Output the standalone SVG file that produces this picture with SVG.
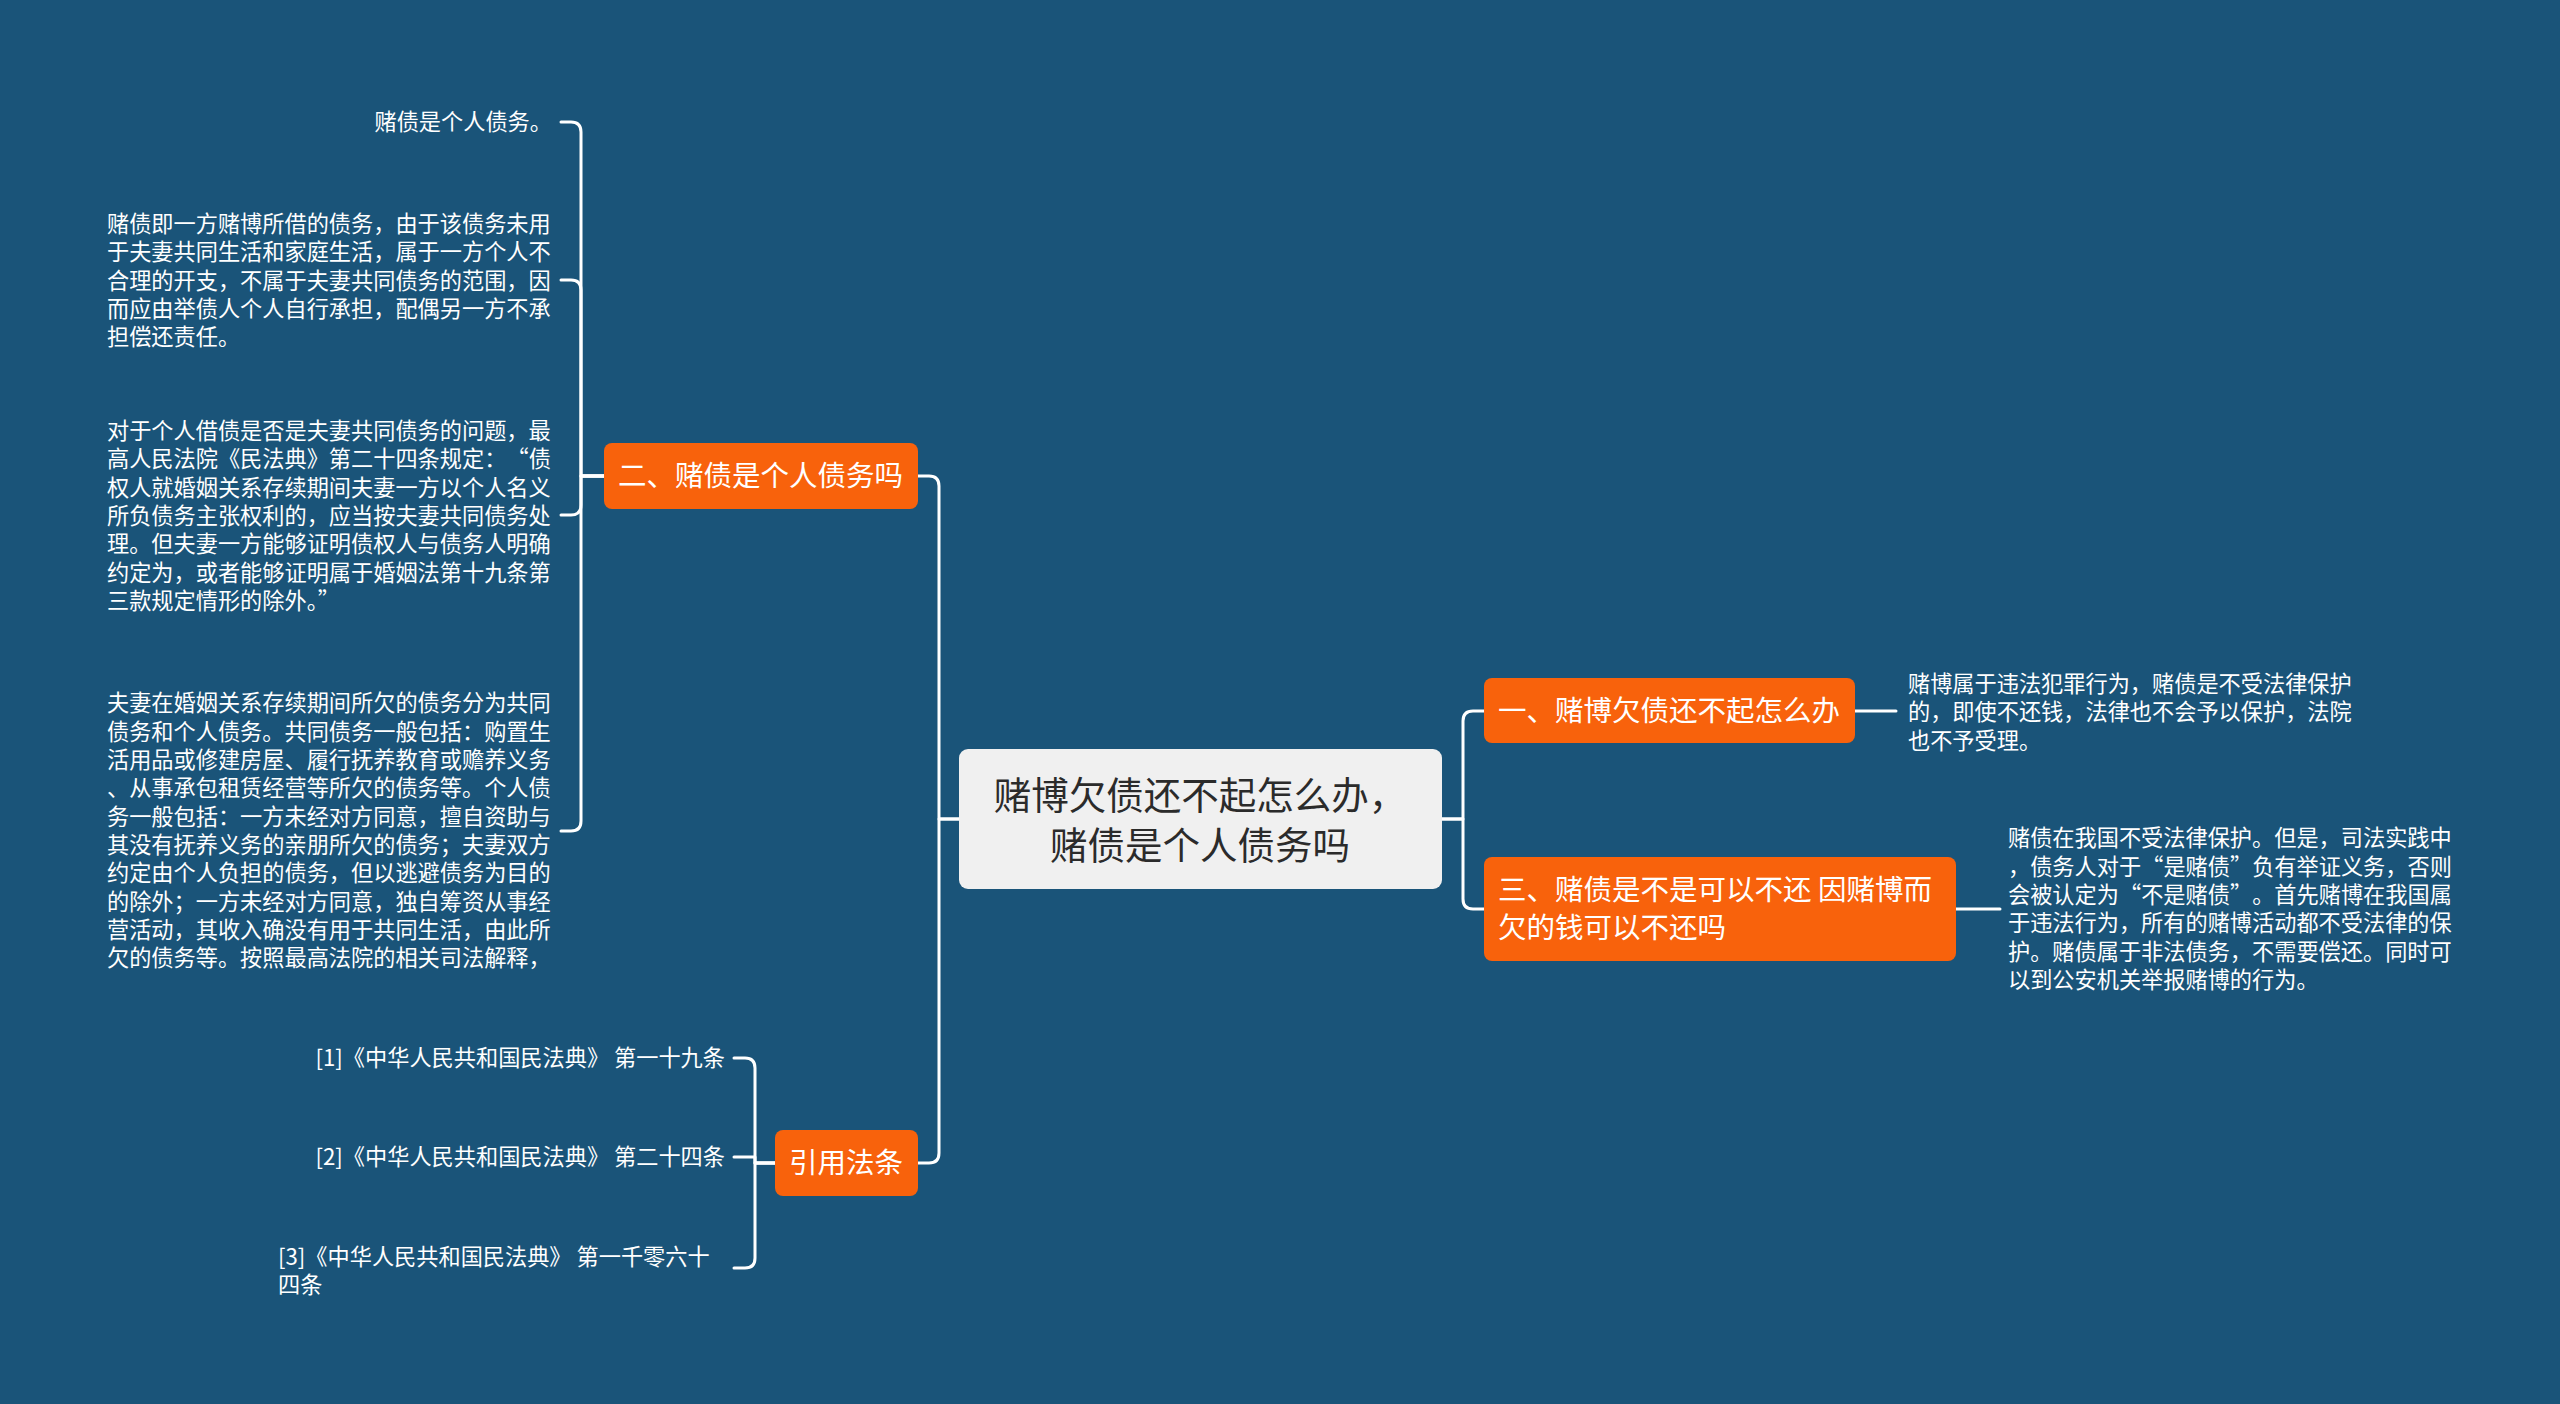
<svg xmlns="http://www.w3.org/2000/svg" width="2560" height="1404" viewBox="0 0 2560 1404">
<style>
.bg{fill:#1a5479}
.conn path{fill:none;stroke:#ffffff;stroke-width:3;stroke-linecap:round;stroke-linejoin:round}
.root rect{fill:#f0f0f0}
.root text{font-family:"Noto Sans CJK SC","Noto Sans",sans-serif;font-size:37.5px;fill:#2b2b2b}
.main rect{fill:#f8620c}
.main text{font-family:"Noto Sans CJK SC","Noto Sans",sans-serif;font-size:28.5px;fill:#ffffff}
.leaf text{font-family:"Noto Sans CJK SC","Noto Sans",sans-serif;font-size:22.2px;fill:#ffffff}
</style>
<rect class="bg" x="0" y="0" width="2560" height="1404"/>

<g class="conn" id="connectors">
  <path d="M959,819 H939 V486 Q939,476 929,476 H918"/>
  <path d="M959,819 H939 V1153 Q939,1163 929,1163 H918"/>
  <path d="M1442,819 H1463 V721 Q1463,711 1473,711 H1484"/>
  <path d="M1442,819 H1463 V899 Q1463,909 1473,909 H1484"/>
  <path d="M604,476 H581 V132 Q581,122 571,122 H561"/>
  <path d="M604,476 H581 V290 Q581,280 571,280 H561"/>
  <path d="M604,476 H581 V505 Q581,515 571,515 H561"/>
  <path d="M604,476 H581 V821 Q581,831 571,831 H561"/>
  <path d="M775,1163 H755 V1068 Q755,1058 745,1058 H734"/>
  <path d="M775,1163 H755 V1157 H734"/>
  <path d="M775,1163 H755 V1258 Q755,1268 745,1268 H734"/>
  <path d="M1855,711 H1896"/>
  <path d="M1956,909 H2000"/>
</g>

<g id="root" class="root">
  <rect x="959" y="749" width="483" height="140" rx="9"/>
  <text x="1200" y="809" text-anchor="middle">赌博欠债还不起怎么办，</text>
  <text x="1200" y="859" text-anchor="middle">赌债是个人债务吗</text>
</g>

<g id="node-2" class="main">
  <rect x="604" y="443" width="314" height="66" rx="8"/>
  <text x="618" y="486">二、赌债是个人债务吗</text>
</g>

<g id="node-cite" class="main">
  <rect x="775" y="1130" width="143" height="66" rx="8"/>
  <text x="789" y="1173">引用法条</text>
</g>

<g id="node-1" class="main">
  <rect x="1484" y="678" width="371" height="65" rx="8"/>
  <text x="1498" y="721">一、赌博欠债还不起怎么办</text>
</g>

<g id="node-3" class="main">
  <rect x="1484" y="857" width="472" height="104" rx="8"/>
  <text x="1498" y="900">三、赌债是不是可以不还 因赌博而</text>
  <text x="1498" y="938">欠的钱可以不还吗</text>
</g>

<g id="leaf-2-1" class="leaf">
  <text x="552" y="130" text-anchor="end">赌债是个人债务。</text>
</g>

<g id="leaf-2-2" class="leaf">
  <text x="107" y="232">赌债即一方赌博所借的债务，由于该债务未用</text>
  <text x="107" y="260.3">于夫妻共同生活和家庭生活，属于一方个人不</text>
  <text x="107" y="288.7">合理的开支，不属于夫妻共同债务的范围，因</text>
  <text x="107" y="317">而应由举债人个人自行承担，配偶另一方不承</text>
  <text x="107" y="345.3">担偿还责任。</text>
</g>

<g id="leaf-2-3" class="leaf">
  <text x="107" y="439">对于个人借债是否是夫妻共同债务的问题，最</text>
  <text x="107" y="467.3">高人民法院《民法典》第二十四条规定：<tspan x="506.6">“</tspan><tspan x="528.8">债</tspan></text>
  <text x="107" y="495.7">权人就婚姻关系存续期间夫妻一方以个人名义</text>
  <text x="107" y="524">所负债务主张权利的，应当按夫妻共同债务处</text>
  <text x="107" y="552.3">理。但夫妻一方能够证明债权人与债务人明确</text>
  <text x="107" y="580.7">约定为，或者能够证明属于婚姻法第十九条第</text>
  <text x="107" y="609">三款规定情形的除外。”</text>
</g>

<g id="leaf-2-4" class="leaf">
  <text x="107" y="711.3">夫妻在婚姻关系存续期间所欠的债务分为共同</text>
  <text x="107" y="739.7">债务和个人债务。共同债务一般包括：购置生</text>
  <text x="107" y="768">活用品或修建房屋、履行抚养教育或赡养义务</text>
  <text x="107" y="796.3">、从事承包租赁经营等所欠的债务等。个人债</text>
  <text x="107" y="824.7">务一般包括：一方未经对方同意，擅自资助与</text>
  <text x="107" y="853">其没有抚养义务的亲朋所欠的债务；夫妻双方</text>
  <text x="107" y="881.3">约定由个人负担的债务，但以逃避债务为目的</text>
  <text x="107" y="909.7">的除外；一方未经对方同意，独自筹资从事经</text>
  <text x="107" y="938">营活动，其收入确没有用于共同生活，由此所</text>
  <text x="107" y="966.3">欠的债务等。按照最高法院的相关司法解释，</text>
</g>

<g id="leaf-cite-1" class="leaf">
  <text x="725" y="1066" text-anchor="end">[1]《中华人民共和国民法典》 第一十九条</text>
</g>
<g id="leaf-cite-2" class="leaf">
  <text x="725" y="1165" text-anchor="end">[2]《中华人民共和国民法典》 第二十四条</text>
</g>
<g id="leaf-cite-3" class="leaf">
  <text x="278" y="1265">[3]《中华人民共和国民法典》 第一千零六十</text>
  <text x="278" y="1293">四条</text>
</g>

<g id="leaf-1" class="leaf">
  <text x="1908" y="691.5">赌博属于违法犯罪行为，赌债是不受法律保护</text>
  <text x="1908" y="720">的，即使不还钱，法律也不会予以保护，法院</text>
  <text x="1908" y="748.5">也不予受理。</text>
</g>

<g id="leaf-3" class="leaf">
  <text x="2008" y="846.2">赌债在我国不受法律保护。但是，司法实践中</text>
  <text x="2008" y="874.5">，债务人对于<tspan x="2141.2">“</tspan><tspan x="2163.4">是赌债</tspan><tspan x="2230">”</tspan><tspan x="2252.2">负有举证义务，否则</tspan></text>
  <text x="2008" y="902.8">会被认定为<tspan x="2119">“</tspan><tspan x="2141.2">不是赌债</tspan><tspan x="2230">”</tspan><tspan x="2252.2">。首先赌博在我国属</tspan></text>
  <text x="2008" y="931.2">于违法行为，所有的赌博活动都不受法律的保</text>
  <text x="2008" y="959.5">护。赌债属于非法债务，不需要偿还。同时可</text>
  <text x="2008" y="987.8">以到公安机关举报赌博的行为。</text>
</g>
</svg>
